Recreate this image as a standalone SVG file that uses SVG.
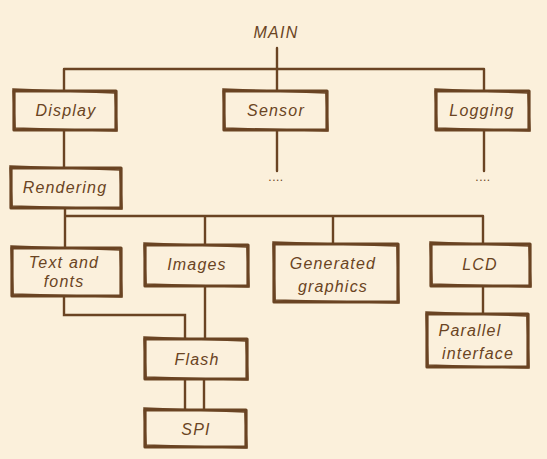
<svg xmlns="http://www.w3.org/2000/svg" width="547" height="459" viewBox="0 0 547 459">
<style>
.bg{fill:#FBF0DB}
.box{fill:#FBF0DC;stroke:#6A4423;stroke-width:3.2;stroke-linejoin:round}
.sk{fill:none;stroke:#6A4423;stroke-width:1.5}
.ln{fill:none;stroke:#6A4423;stroke-width:2.4;stroke-linecap:round}
text{font-family:"Liberation Sans","DejaVu Sans",sans-serif;font-style:italic;font-size:16px;fill:#6A4423;text-anchor:middle;letter-spacing:1.2px}
.dots{font-size:12px;letter-spacing:0.5px;font-style:normal}
</style>
<rect class="bg" x="0" y="0" width="547" height="459"/>
<g id="connectors">
<path class="ln" d="M277 48 V91"/>
<path class="ln" d="M64 69 H484 M64 69 V91 M484 69 V91"/>
<path class="ln" d="M277 130 V171 M484 130 V171 M64 130 V169"/>
<path class="ln" d="M65 209 V248 M65 216 H483 M205 216 V246 M333 216 V244 M483 216 V245"/>
<path class="ln" d="M64 297 V315 H185 V340 M205 286 V340"/>
<path class="ln" d="M483 286 V314"/>
<path class="ln" d="M185 379 V410 M204 379 V410"/>
</g>
<g id="main"><text x="276" y="38">MAIN</text></g>
<g id="display"><rect class="box" x="14" y="91" width="102" height="39"/><path class="sk" d="M13 89 L115 93 L117 131 L15 128 Z"/><text x="66" y="116">Display</text></g>
<g id="sensor"><rect class="box" x="224" y="91" width="103" height="39"/><path class="sk" d="M223 89 L326 93 L328 131 L225 128 Z"/><text x="276" y="116">Sensor</text></g>
<g id="logging"><rect class="box" x="436" y="91" width="93" height="39"/><path class="sk" d="M435 89 L528 93 L530 131 L437 128 Z"/><text x="482" y="116">Logging</text></g>
<g id="sensor-more"><text class="dots" x="276" y="181">....</text></g>
<g id="logging-more"><text class="dots" x="483" y="181">....</text></g>
<g id="rendering"><rect class="box" x="11" y="168" width="110" height="40"/><path class="sk" d="M10 166 L120 170 L122 209 L12 206 Z"/><text x="65" y="193">Rendering</text></g>
<g id="text-fonts"><rect class="box" x="12" y="248" width="109" height="48"/><path class="sk" d="M11 246 L120 250 L122 297 L13 294 Z"/><text x="64" y="268">Text and</text><text x="64" y="287">fonts</text></g>
<g id="images"><rect class="box" x="145" y="245" width="103" height="41"/><path class="sk" d="M144 243 L247 247 L249 287 L146 284 Z"/><text x="197" y="270">Images</text></g>
<g id="generated"><rect class="box" x="274" y="244" width="124" height="58"/><path class="sk" d="M273 242 L397 246 L399 303 L275 300 Z"/><text x="333" y="269">Generated</text><text x="333" y="292">graphics</text></g>
<g id="lcd"><rect class="box" x="431" y="244" width="99" height="42"/><path class="sk" d="M430 242 L529 246 L531 287 L432 284 Z"/><text x="480" y="270">LCD</text></g>
<g id="parallel"><rect class="box" x="427" y="314" width="101" height="53"/><path class="sk" d="M426 312 L527 316 L529 368 L428 365 Z"/><text x="470" y="336">Parallel</text><text x="478" y="359">interface</text></g>
<g id="flash"><rect class="box" x="145" y="339" width="102" height="40"/><path class="sk" d="M144 337 L246 341 L248 380 L146 377 Z"/><text x="197" y="365">Flash</text></g>
<g id="spi"><rect class="box" x="145" y="410" width="101" height="37"/><path class="sk" d="M144 408 L245 412 L247 448 L146 445 Z"/><text x="196" y="435">SPI</text></g>
</svg>
